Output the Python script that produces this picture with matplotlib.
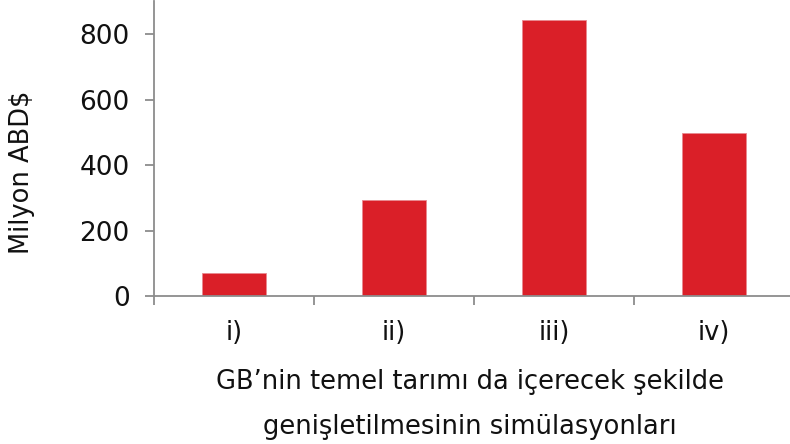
import matplotlib
matplotlib.use("Agg")
import matplotlib.pyplot as plt
import numpy as np

categories = ["i)", "ii)", "iii)", "iv)"]
values = [71, 292, 842, 499]
yticks = [0, 200, 400, 600, 800]

plt.rcParams['font.family'] = ['DejaVu Sans']

fig = plt.figure(figsize=(7.9, 4.44), dpi=100)
ax = fig.add_axes([154 / 790, 148 / 444, 640 / 790, 294.5 / 444])

x = np.arange(len(categories))
ax.bar(x, values, width=0.4, color="#da1f28", edgecolor="#e88a90", linewidth=0.6)

ax.set_xlim(-0.5, len(categories) - 0.5)
ax.set_ylim(0, 900)

grey = "#8c8c8c"
for side in ("top", "right"):
    ax.spines[side].set_visible(False)
for side in ("left", "bottom"):
    ax.spines[side].set_color(grey)
    ax.spines[side].set_linewidth(1.3)

ax.set_yticks(yticks)
ax.set_yticklabels([str(v) for v in yticks])
ax.tick_params(axis="y", length=6.5, width=1.3, color=grey, labelsize=19, pad=11, labelcolor="#111111")

# boundary ticks on x, labels at category centres
ax.set_xticks(np.arange(len(categories) + 1) - 0.5)
ax.set_xticklabels([])
ax.tick_params(axis="x", which="major", length=6.5, width=1.3, color=grey)
ax.set_xticks(x, minor=True)
ax.set_xticklabels(categories, minor=True)
ax.tick_params(axis="x", which="minor", length=0, labelsize=18.5, pad=17, labelcolor="#111111")

fig.text(22 / 790, 1 - 172 / 444, "Milyon ABD$", rotation=90,
         ha="center", va="center", fontsize=18.5, color="#111111")
fig.text(470 / 790, 1 - 404 / 444,
         "GB\u2019nin temel tarımı da içerecek şekilde\ngenişletilmesinin simülasyonları",
         ha="center", va="center", fontsize=18.5, linespacing=1.95, color="#111111")

fig.savefig("out.png", dpi=100)
